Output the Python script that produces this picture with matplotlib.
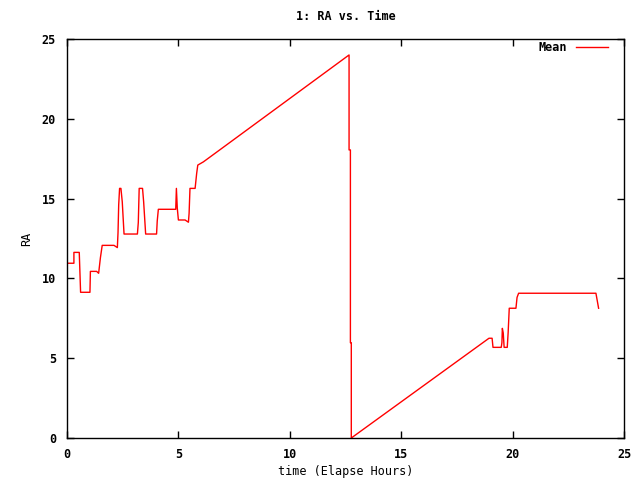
import matplotlib
matplotlib.use("Agg")
import matplotlib.pyplot as plt

# elapsed hours / RA (hours)
t = [0.0, 0.31, 0.31, 0.55, 0.61, 1.03, 1.05, 1.33, 1.42, 1.50, 1.58, 2.11, 2.26,
     2.29, 2.32, 2.36, 2.42, 2.48, 2.56, 3.16, 3.20, 3.24, 3.39, 3.44, 3.53, 4.02,
     4.05, 4.10, 4.88, 4.91, 4.95, 5.00, 5.30, 5.45, 5.48, 5.52, 5.75, 5.82, 5.87,
     6.12, 7.0, 12.66, 12.66, 12.72, 12.72, 12.76, 12.76, 18.94, 19.08, 19.12,
     19.49, 19.52, 19.54, 19.58, 19.62, 19.76, 19.80, 19.85, 20.15, 20.20, 20.27,
     23.74, 23.80, 23.86]
ra = [10.95, 10.95, 11.63, 11.63, 9.13, 9.13, 10.44, 10.44, 10.32, 11.3, 12.07,
      12.07, 11.93, 12.87, 14.6, 15.64, 15.64, 14.8, 12.78, 12.78, 13.5, 15.64,
      15.64, 14.8, 12.78, 12.78, 13.6, 14.33, 14.33, 15.64, 14.4, 13.66, 13.66,
      13.52, 14.08, 15.64, 15.64, 16.58, 17.1, 17.3, 18.2, 24.0, 18.05, 18.05,
      5.97, 5.97, 0.0, 6.25, 6.25, 5.68, 5.68, 5.97, 6.87, 6.58, 5.68, 5.68, 6.6,
      8.13, 8.13, 8.81, 9.07, 9.07, 8.6, 8.13]

plt.rcParams["font.family"] = "DejaVu Sans Mono"
plt.rcParams["font.weight"] = "bold"
plt.rcParams["font.size"] = 8.5

fig = plt.figure(figsize=(6.4, 4.8), dpi=100)
ax = fig.add_axes([67 / 640, 42 / 480, 557 / 640, 399 / 480])

ax.plot(t, ra, color="#ff0000", linewidth=1, label="Mean")

ax.set_xlim(0, 25)
ax.set_ylim(0, 25)
ax.set_xticks(range(0, 26, 5))
ax.set_yticks(range(0, 26, 5))
ax.tick_params(direction="in", top=True, right=True, length=5, width=1)
ax.tick_params(axis="x", pad=7)
ax.tick_params(axis="y", pad=8)
for s in ax.spines.values():
    s.set_linewidth(1)

ax.set_xlabel("time (Elapse Hours)", labelpad=3)
ax.set_ylabel("RA", labelpad=6)
ax.set_title("1: RA vs. Time", pad=14, fontweight="bold", fontsize=8.5)

leg = ax.legend(loc="upper right", frameon=False, markerfirst=False,
                handlelength=2.7, handletextpad=0.8, borderpad=0,
                borderaxespad=0, bbox_to_anchor=(1 - 16 / 557, 1 - 2 / 399))

fig.savefig("out.png", dpi=100)
